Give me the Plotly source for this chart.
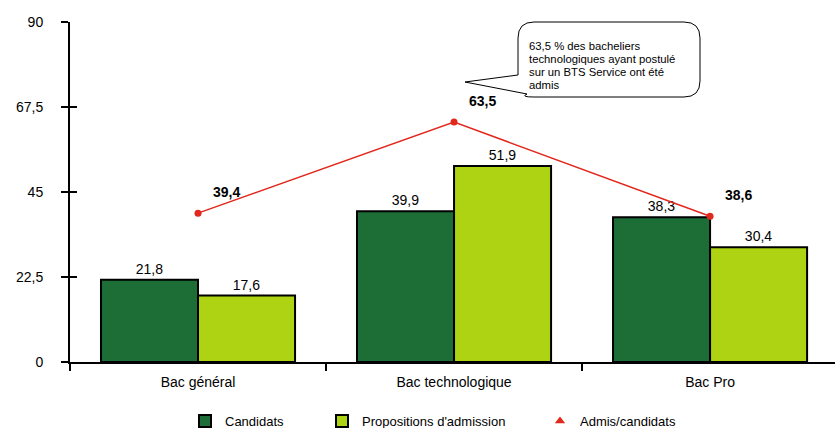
import plotly.graph_objects as go

categories = ["Bac général", "Bac technologique", "Bac Pro"]
candidats = [21.8, 39.9, 38.3]
propositions = [17.6, 51.9, 30.4]
admis_ratio = [39.4, 63.5, 38.6]
y_ticks = [0, 22.5, 45, 67.5, 90]
y_tick_labels = ["0", "22,5", "45", "67,5", "90"]
callout_lines = ["63,5 % des bacheliers", "technologiques ayant postulé", "sur un BTS Service ont été", "admis"]

def fmt(v):
    return f"{v:.1f}".replace(".", ",")

W, H = 835, 428
L, R, T, B = 70, 0, 22, 66
PW, PH = W - L - R, H - T - B

def px(x):
    return (x - L) / PW

def py(y):
    return (H - B - y) / PH

DARK = "#1d6d36"
LIME = "#add312"
RED = "#e2271c"
FONT = "Liberation Sans, Arial, sans-serif"

fig = go.Figure()
fig.add_bar(x=categories, y=candidats, name="Candidats", marker=dict(color=DARK, line=dict(color="black", width=2)),
            text=[fmt(v) for v in candidats], textposition="outside", textfont=dict(size=14, color="black"),
            cliponaxis=False, legend="legend")
fig.add_bar(x=categories, y=propositions, name="Propositions d'admission", marker=dict(color=LIME, line=dict(color="black", width=2)),
            text=[fmt(v) for v in propositions], textposition="outside", textfont=dict(size=14, color="black"),
            cliponaxis=False, legend="legend2")
fig.add_scatter(x=categories, y=admis_ratio, mode="lines+markers", name="Admis/candidats",
                line=dict(color=RED, width=1.5), marker=dict(color=RED, size=7, symbol="circle"), showlegend=False)
fig.add_scatter(x=[None], y=[None], mode="markers", name="Admis/candidats",
                marker=dict(color=RED, size=9, symbol="triangle-up"), legend="legend3")

for c, v in zip(categories, admis_ratio):
    fig.add_annotation(x=c, y=v, text=f"<b>{fmt(v)}</b>", showarrow=False, xshift=28, yshift=21,
                       font=dict(size=14, color="black", family=FONT))

# callout bubble
x0, x1, yt, yb, r = 518, 700, 22, 97, 16
tip = (465, 82)
path = (f"M {px(x0+r)},{py(yt)} L {px(x1-r)},{py(yt)} Q {px(x1)},{py(yt)} {px(x1)},{py(yt+r)} "
        f"L {px(x1)},{py(yb-r)} Q {px(x1)},{py(yb)} {px(x1-r)},{py(yb)} "
        f"L {px(x0+r)},{py(yb)} Q {px(x0+2)},{py(yb)} {px(527)},{py(94)} "
        f"L {px(tip[0])},{py(tip[1])} L {px(x0)},{py(75)} "
        f"L {px(x0)},{py(yt+r)} Q {px(x0)},{py(yt)} {px(x0+r)},{py(yt)} Z")
fig.add_shape(type="path", path=path, xref="paper", yref="paper", line=dict(color="black", width=1),
              fillcolor="white", layer="above")
for i, line in enumerate(callout_lines):
    fig.add_annotation(xref="paper", yref="paper", x=px(527), y=py(46.5 + 12.7 * i), xanchor="left",
                       yanchor="middle", text=line, align="left", showarrow=False,
                       font=dict(size=11.3, color="black", family=FONT))

# x-axis line extension to the left of the y axis
fig.add_shape(type="line", xref="paper", yref="paper", x0=px(62), x1=0, y0=0, y1=0,
              line=dict(color="black", width=2))

leg_common = dict(orientation="h", yanchor="middle", y=py(421), xanchor="left",
                  font=dict(size=13), itemwidth=30, bgcolor="rgba(0,0,0,0)")

fig.update_layout(
    width=W, height=H, margin=dict(l=L, r=R, t=T, b=B, autoexpand=False),
    paper_bgcolor="white", plot_bgcolor="white",
    barmode="group", bargap=0.242, bargroupgap=0,
    separators=", ",
    font=dict(family=FONT, size=14, color="black"),
    showlegend=True,
    legend=dict(x=px(185), **leg_common),
    legend2=dict(x=px(322), **leg_common),
    legend3=dict(x=px(540), **leg_common),
    xaxis=dict(showline=True, linecolor="black", linewidth=2, ticks="outside", tickson="boundaries",
               ticklen=7, tickcolor="black", tickwidth=2, showgrid=False, range=[-0.5, 2.488],
               tickfont=dict(size=14), automargin=False, ticklabelstandoff=6),
    yaxis=dict(range=[0, 90], tickvals=y_ticks, ticktext=y_tick_labels, showline=True, linecolor="black",
               linewidth=2, ticks="outside", ticklen=7, tickcolor="black", tickwidth=2, showgrid=False,
               zeroline=False, tickfont=dict(size=14), automargin=False, ticklabelstandoff=15),
    yaxis2=dict(range=[0, 90], tickvals=y_ticks, overlaying="y", side="left", ticks="inside", ticklen=7,
                tickcolor="black", tickwidth=2, showticklabels=False, showgrid=False, zeroline=False,
                showline=False, automargin=False),
)
fig.add_scatter(x=[None], y=[None], yaxis="y2", showlegend=False)

fig.write_html("out.html", config={"displayModeBar": False},
               post_script="document.body.style.margin='0';document.body.style.overflow='hidden';")
